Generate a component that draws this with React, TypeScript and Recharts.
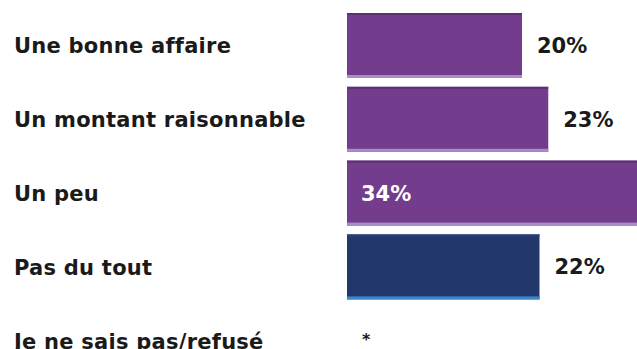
import { BarChart, Bar, XAxis, YAxis, LabelList } from "recharts"

const categories = [
    "Une bonne affaire",
    "Un montant raisonnable",
    "Un peu",
    "Pas du tout",
    "Je ne sais pas/refusé",
]
const values = [20, 23, 34, 22, 0]
const valueLabels = ["20%", "23%", "34%", "22%", "*"]

const FONT = "'DejaVu Sans', sans-serif"
const PURPLE = { body: "#743c8c", top: "#5e2e74", bottom: "#a78dca" }
const NAVY = { body: "#22376b", top: "#2b4278", bottom: "#3a86c8" }

const data = categories.map((name, i) => ({ name, value: values[i], label: valueLabels[i] }))

const BarShape = (props: any) => {
    const { x, y, width, height, index } = props
    if (!width || width <= 0) return null
    const c = index === 3 ? NAVY : PURPLE
    return (
        <g>
            <rect x={x} y={y} width={width} height={height} fill={c.body} />
            <rect x={x} y={y} width={width} height={2} fill={c.top} />
            <rect x={x} y={y + height - 3} width={width} height={3} fill={c.bottom} />
        </g>
    )
}

const CategoryTick = (props: any) => {
    const { y, payload } = props
    return (
        <text x={14} y={y + 7.5} textAnchor="start" fontFamily={FONT} fontWeight="bold" fontSize={21} letterSpacing={0.25} fill="#1a1a1a">
            {payload.value}
        </text>
    )
}

const ValueLabel = (props: any) => {
    const { x, y, width, height, index } = props
    const cy = y + height / 2
    const label = valueLabels[index]
    if (values[index] === 0) {
        return (
            <text x={x + 15} y={cy + 4} fontFamily={FONT} fontWeight="bold" fontSize={16} fill="#1a1a1a">
                {label}
            </text>
        )
    }
    // the biggest bar runs off the edge, its label goes inside
    if (values[index] >= 30) {
        return (
            <text x={x + 14} y={cy + 7.5} fontFamily={FONT} fontWeight="bold" fontSize={21} fill="#ffffff">
                {label}
            </text>
        )
    }
    return (
        <text x={x + width + 15} y={cy + 7.5} fontFamily={FONT} fontWeight="bold" fontSize={21} fill="#1a1a1a">
            {label}
        </text>
    )
}

export default function App() {
    return (
        <div style={{ position: "absolute", left: 0, top: 0, width: 637, height: 349, overflow: "hidden", background: "#fff" }}>
            <BarChart
                width={697}
                height={378}
                data={data}
                layout="vertical"
                margin={{ top: 9, right: 0, bottom: 0, left: 0 }}
            >
                <XAxis type="number" domain={[0, 40]} hide />
                <YAxis
                    type="category"
                    dataKey="name"
                    width={347}
                    axisLine={false}
                    tickLine={false}
                    tick={<CategoryTick />}
                    interval={0}
                />
                <Bar dataKey="value" barSize={65} shape={<BarShape />} isAnimationActive={false}>
                    <LabelList dataKey="label" content={<ValueLabel />} />
                </Bar>
            </BarChart>
        </div>
    )
}
